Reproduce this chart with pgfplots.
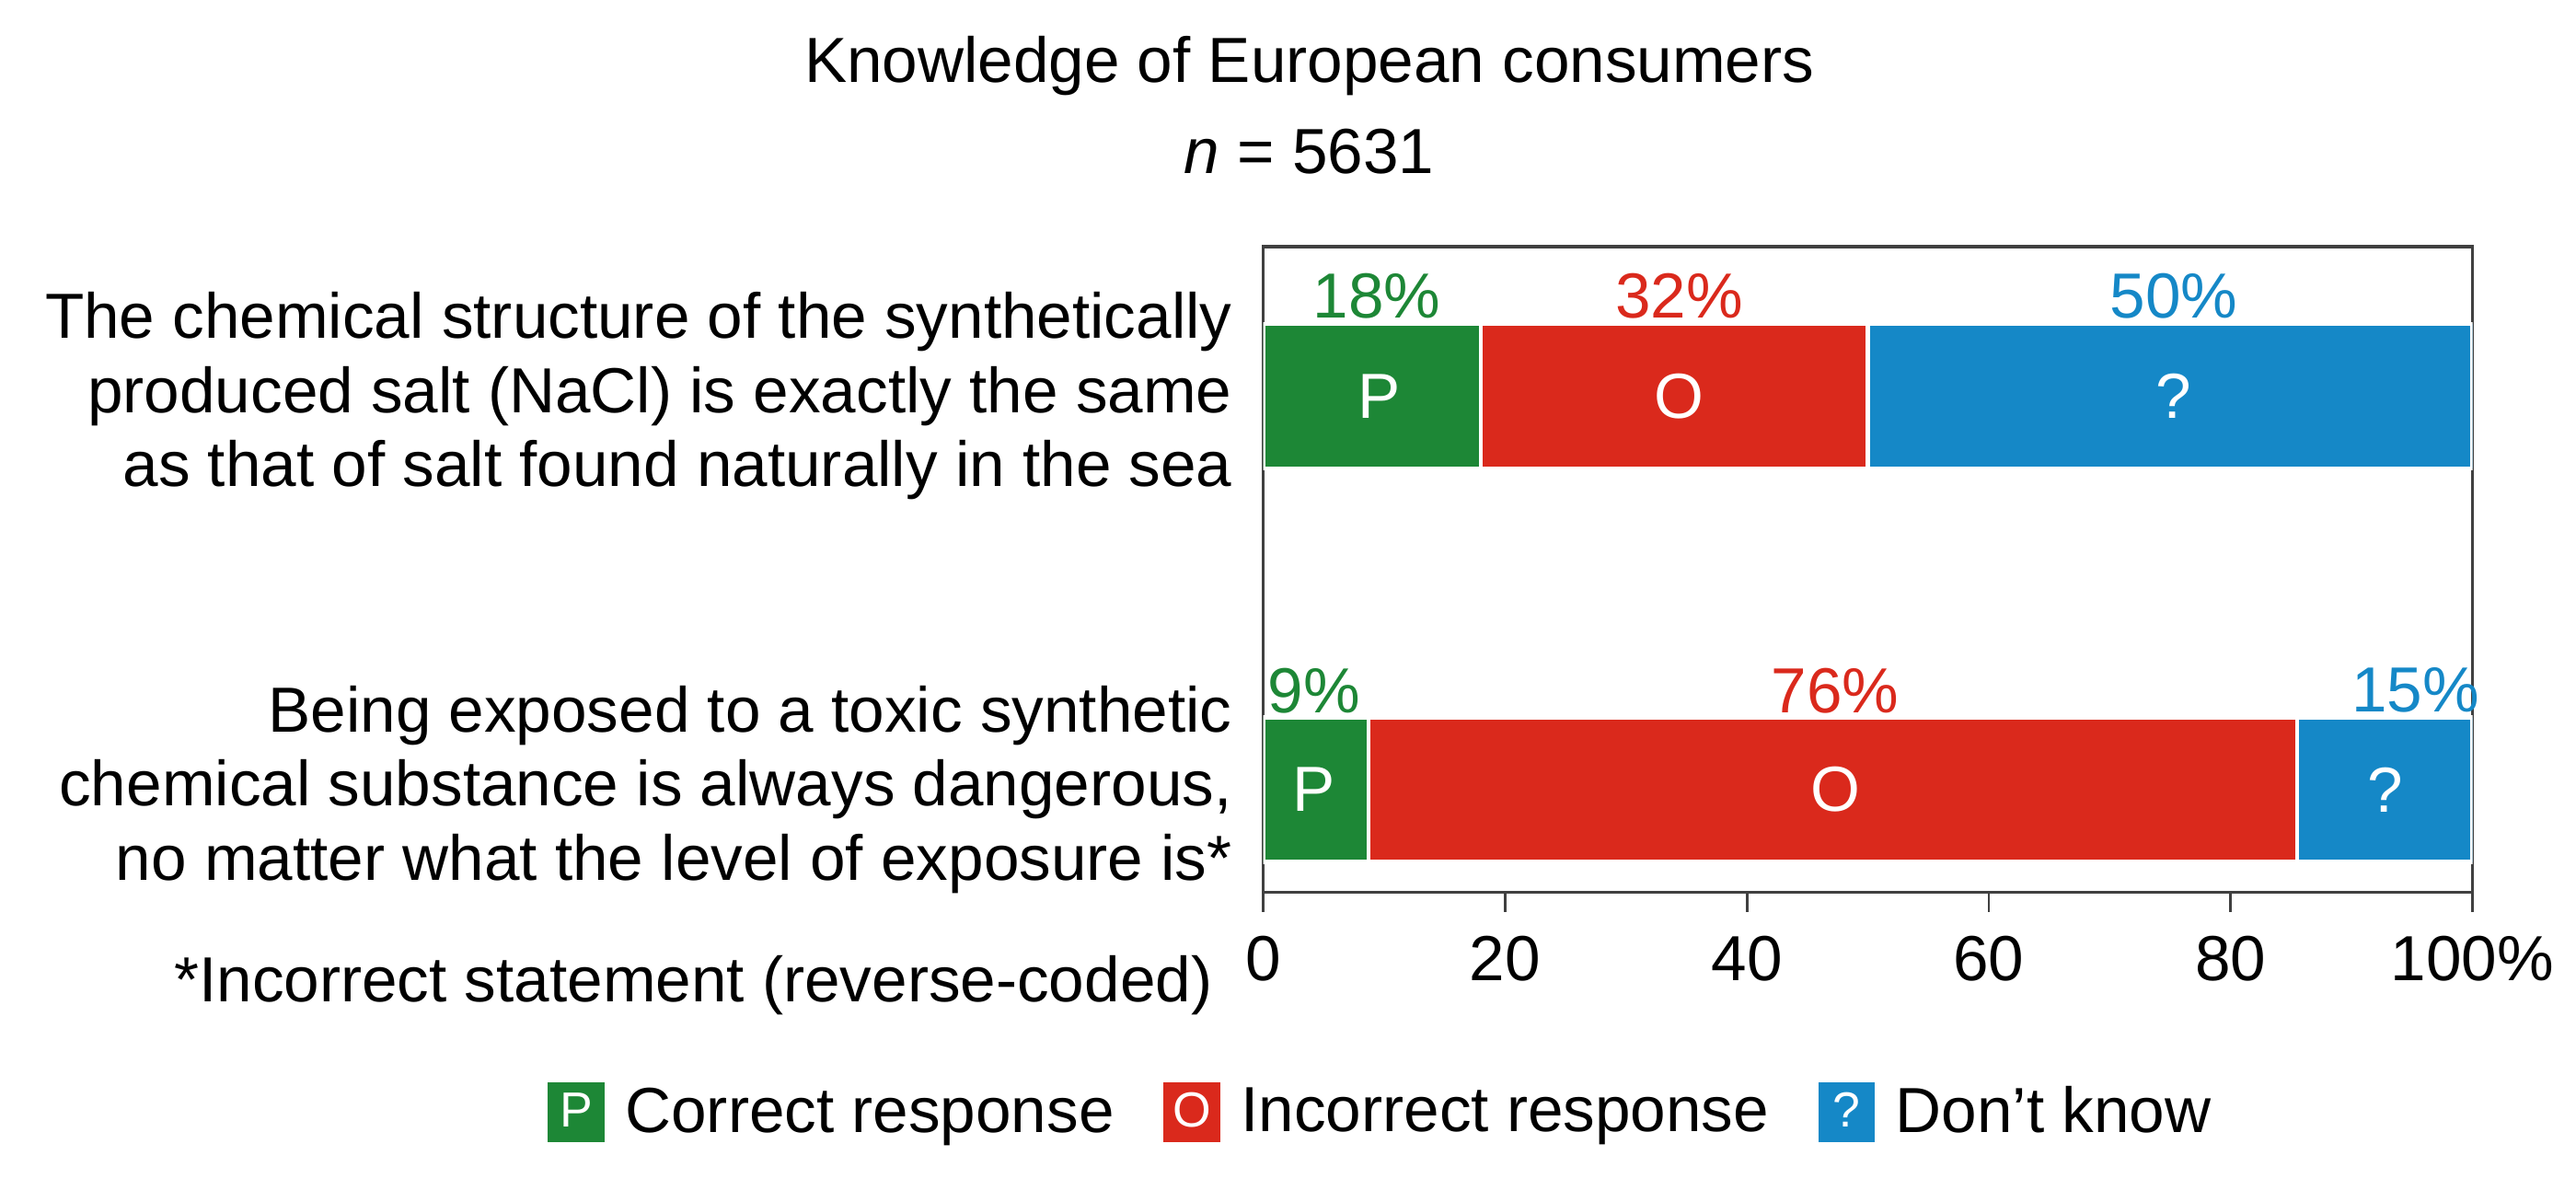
\documentclass[border=0pt]{standalone}
\usepackage{fontspec}
\setmainfont{Liberation Sans}
\usepackage{pgfplots}
\pgfplotsset{compat=1.18}
\definecolor{cgreen}{HTML}{1D8736}
\definecolor{cred}{HTML}{DA291C}
\definecolor{cblue}{HTML}{1588C7}
\newcommand{\cf}{\fontsize{19.4}{22.5}\selectfont}
\newcommand{\lf}{\fontsize{15}{15}\selectfont}

\pgfplotsset{chartbox/.style={width=368pt, height=196.5pt, scale only axis,
  xmin=0, xmax=100, ymin=-0.26, ymax=1.38}}

\begin{document}
\begin{tikzpicture}
\begin{axis}[chartbox,
  xbar stacked, bar width=44pt,
  axis line style={draw=black!75, line width=1pt},
  xtick={0,20,40,60,80,100},
  xticklabels={0,20,40,60,80,100\%},
  xtick pos=bottom, tick align=outside,
  major tick length=6pt,
  xtick style={draw=black!75, line width=0.8pt},
  xticklabel style={font=\cf, yshift=-4pt},
  ytick={0,1},
  ytick style={draw=none},
  yticklabels={{Being exposed to a toxic synthetic\\chemical substance is always dangerous,\\no matter what the level of exposure is*},
               {The chemical structure of the synthetically\\produced salt (NaCl) is exactly the same\\as that of salt found naturally in the sea}},
  yticklabel style={align=right, font=\cf},
  legend columns=3,
  legend style={draw=none, fill=none, at={(-0.6005,-0.341)}, anchor=west,
    font=\cf, /tikz/every even column/.append style={column sep=13pt}},
]
\addplot[fill=cgreen, draw=white, line width=1.2pt,
  legend image code/.code={\fill[cgreen] (0pt,-8.5pt) rectangle (16pt,8.5pt);
    \node[text=white, font=\lf, inner sep=0pt] at (8pt,0pt) {P};
    \path[draw=none, fill=none] (0pt,0pt) -- (21pt,0pt);}]
  coordinates {(8.7,0) (18,1)};
\addplot[fill=cred, draw=white, line width=1.2pt,
  legend image code/.code={\fill[cred] (0pt,-8.5pt) rectangle (16pt,8.5pt);
    \node[text=white, font=\lf, inner sep=0pt] at (8pt,0pt) {O};
    \path[draw=none, fill=none] (0pt,0pt) -- (21pt,0pt);}]
  coordinates {(76.8,0) (32,1)};
\addplot[fill=cblue, draw=white, line width=1.2pt,
  legend image code/.code={\fill[cblue] (0pt,-8.5pt) rectangle (16pt,8.5pt);
    \node[text=white, font=\lf, inner sep=0pt] at (8pt,0pt) {?};
    \path[draw=none, fill=none] (0pt,0pt) -- (21pt,0pt);}]
  coordinates {(14.5,0) (50,1)};
\legend{Correct response, Incorrect response, Don’t know}
\end{axis}

% labels on top of the bars
\begin{axis}[chartbox, hide axis, clip=false]
\addplot[only marks, mark=none, nodes near coords, point meta=explicit symbolic,
  nodes near coords align=center, nodes near coords style={text=cgreen, font=\cf}]
  coordinates {(9.4,1.254) [18\%] (4.2,0.252) [9\%]};
\addplot[only marks, mark=none, nodes near coords, point meta=explicit symbolic,
  nodes near coords align=center, nodes near coords style={text=cred, font=\cf}]
  coordinates {(34.4,1.254) [32\%] (47.3,0.252) [76\%]};
\addplot[only marks, mark=none, nodes near coords, point meta=explicit symbolic,
  nodes near coords align=center, nodes near coords style={text=cblue, font=\cf}]
  coordinates {(75.3,1.254) [50\%] (95.3,0.252) [15\%]};
\addplot[only marks, mark=none, nodes near coords, point meta=explicit symbolic,
  nodes near coords align=center, nodes near coords style={text=white, font=\cf}]
  coordinates {(9.6,1) [P] (34.4,1) [O] (75.3,1) [?]
               (4.2,0) [P] (47.3,0) [O] (92.8,0) [?]};
\node[font=\cf] at ([shift={(14pt,55pt)}]rel axis cs:0,1) {Knowledge of European consumers};
\node[font=\cf] at ([shift={(14pt,29pt)}]rel axis cs:0,1) {\textit{n} = 5631};
\node[font=\cf, anchor=east] at ([shift={(-12pt,-28.5pt)}]rel axis cs:0,0) {*Incorrect statement (reverse-coded)};
\end{axis}
\pgfresetboundingbox
\path[use as bounding box] ([shift={(-384.5pt,-90.5pt)}]current axis.south west)
  rectangle ([shift={(31.5pt,75pt)}]current axis.north east);
\end{tikzpicture}
\end{document}
